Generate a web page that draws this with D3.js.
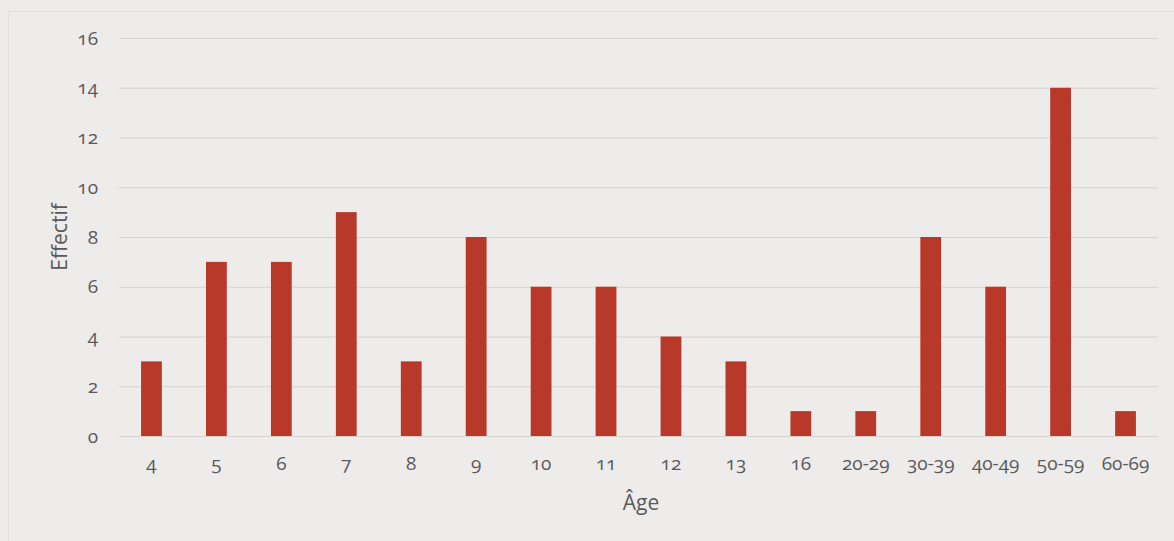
<!DOCTYPE html>
<html>
<head>
<meta charset="utf-8">
<script src="https://cdn.jsdelivr.net/npm/d3@7"></script>
<style>
  html, body { margin: 0; padding: 0; background: #eeecea; }
  svg { display: block; }
  text { font-family: "Open Sans", "Noto Sans", sans-serif; fill: #5a5a5c; font-variant-numeric: oldstyle-nums; }
</style>
</head>
<body>
<div id="chart"></div>
<script>
// age groups and their counts
const ages = ['4', '5', '6', '7', '8', '9', '10', '11', '12', '13', '16', '20-29', '30-39', '40-49', '50-59', '60-69'];
const counts = [3, 7, 7, 9, 3, 8, 6, 6, 4, 3, 1, 1, 8, 6, 14, 1];
const yTicks = [0, 2, 4, 6, 8, 10, 12, 14, 16];

const W = 1174, H = 541;
const margin = { top: 38, right: 16, bottom: 105, left: 119 };
const width = W - margin.left - margin.right;
const height = H - margin.top - margin.bottom;

const svg = d3.select('#chart').append('svg')
  .attr('width', W)
  .attr('height', H);

// faint frame of the scanned page
svg.append('rect')
  .attr('x', 8.5).attr('y', 11.5)
  .attr('width', W - 4).attr('height', H)
  .attr('fill', 'none')
  .attr('stroke', '#e2dfdc');

const g = svg.append('g')
  .attr('transform', `translate(${margin.left},${margin.top})`);

const x = d3.scaleBand()
  .domain(ages)
  .range([0, width])
  .paddingInner(0.68)
  .paddingOuter(0.34);

const y = d3.scaleLinear()
  .domain([0, 16])
  .range([height, 0]);

// gridlines + y labels
const yAxis = g.append('g')
  .call(d3.axisLeft(y).tickValues(yTicks).tickSize(-width).tickPadding(21));
yAxis.select('.domain').remove();
yAxis.selectAll('.tick line').attr('stroke', '#d6d3d0').attr('stroke-width', 1.2);
yAxis.selectAll('.tick text').style('font-size', '19px').attr('fill', '#5a5a5c');

// bars
g.selectAll('.bar')
  .data(counts)
  .join('rect')
  .attr('class', 'bar')
  .attr('x', (d, i) => x(ages[i]))
  .attr('y', d => y(d))
  .attr('width', x.bandwidth())
  .attr('height', d => height - y(d))
  .attr('fill', '#b8392a');

// x labels
const xAxis = g.append('g')
  .attr('transform', `translate(0,${height})`)
  .call(d3.axisBottom(x).tickSize(0).tickPadding(21));
xAxis.select('.domain').remove();
xAxis.selectAll('.tick text').style('font-size', '19px').attr('fill', '#5a5a5c');

// axis titles
svg.append('text')
  .attr('x', 641)
  .attr('y', 510)
  .attr('text-anchor', 'middle')
  .style('font-size', '21px')
  .text('Âge');

svg.append('text')
  .attr('transform', `translate(67,${margin.top + height / 2}) rotate(-90)`)
  .attr('text-anchor', 'middle')
  .style('font-size', '21px')
  .text('Effectif');
</script>
</body>
</html>
